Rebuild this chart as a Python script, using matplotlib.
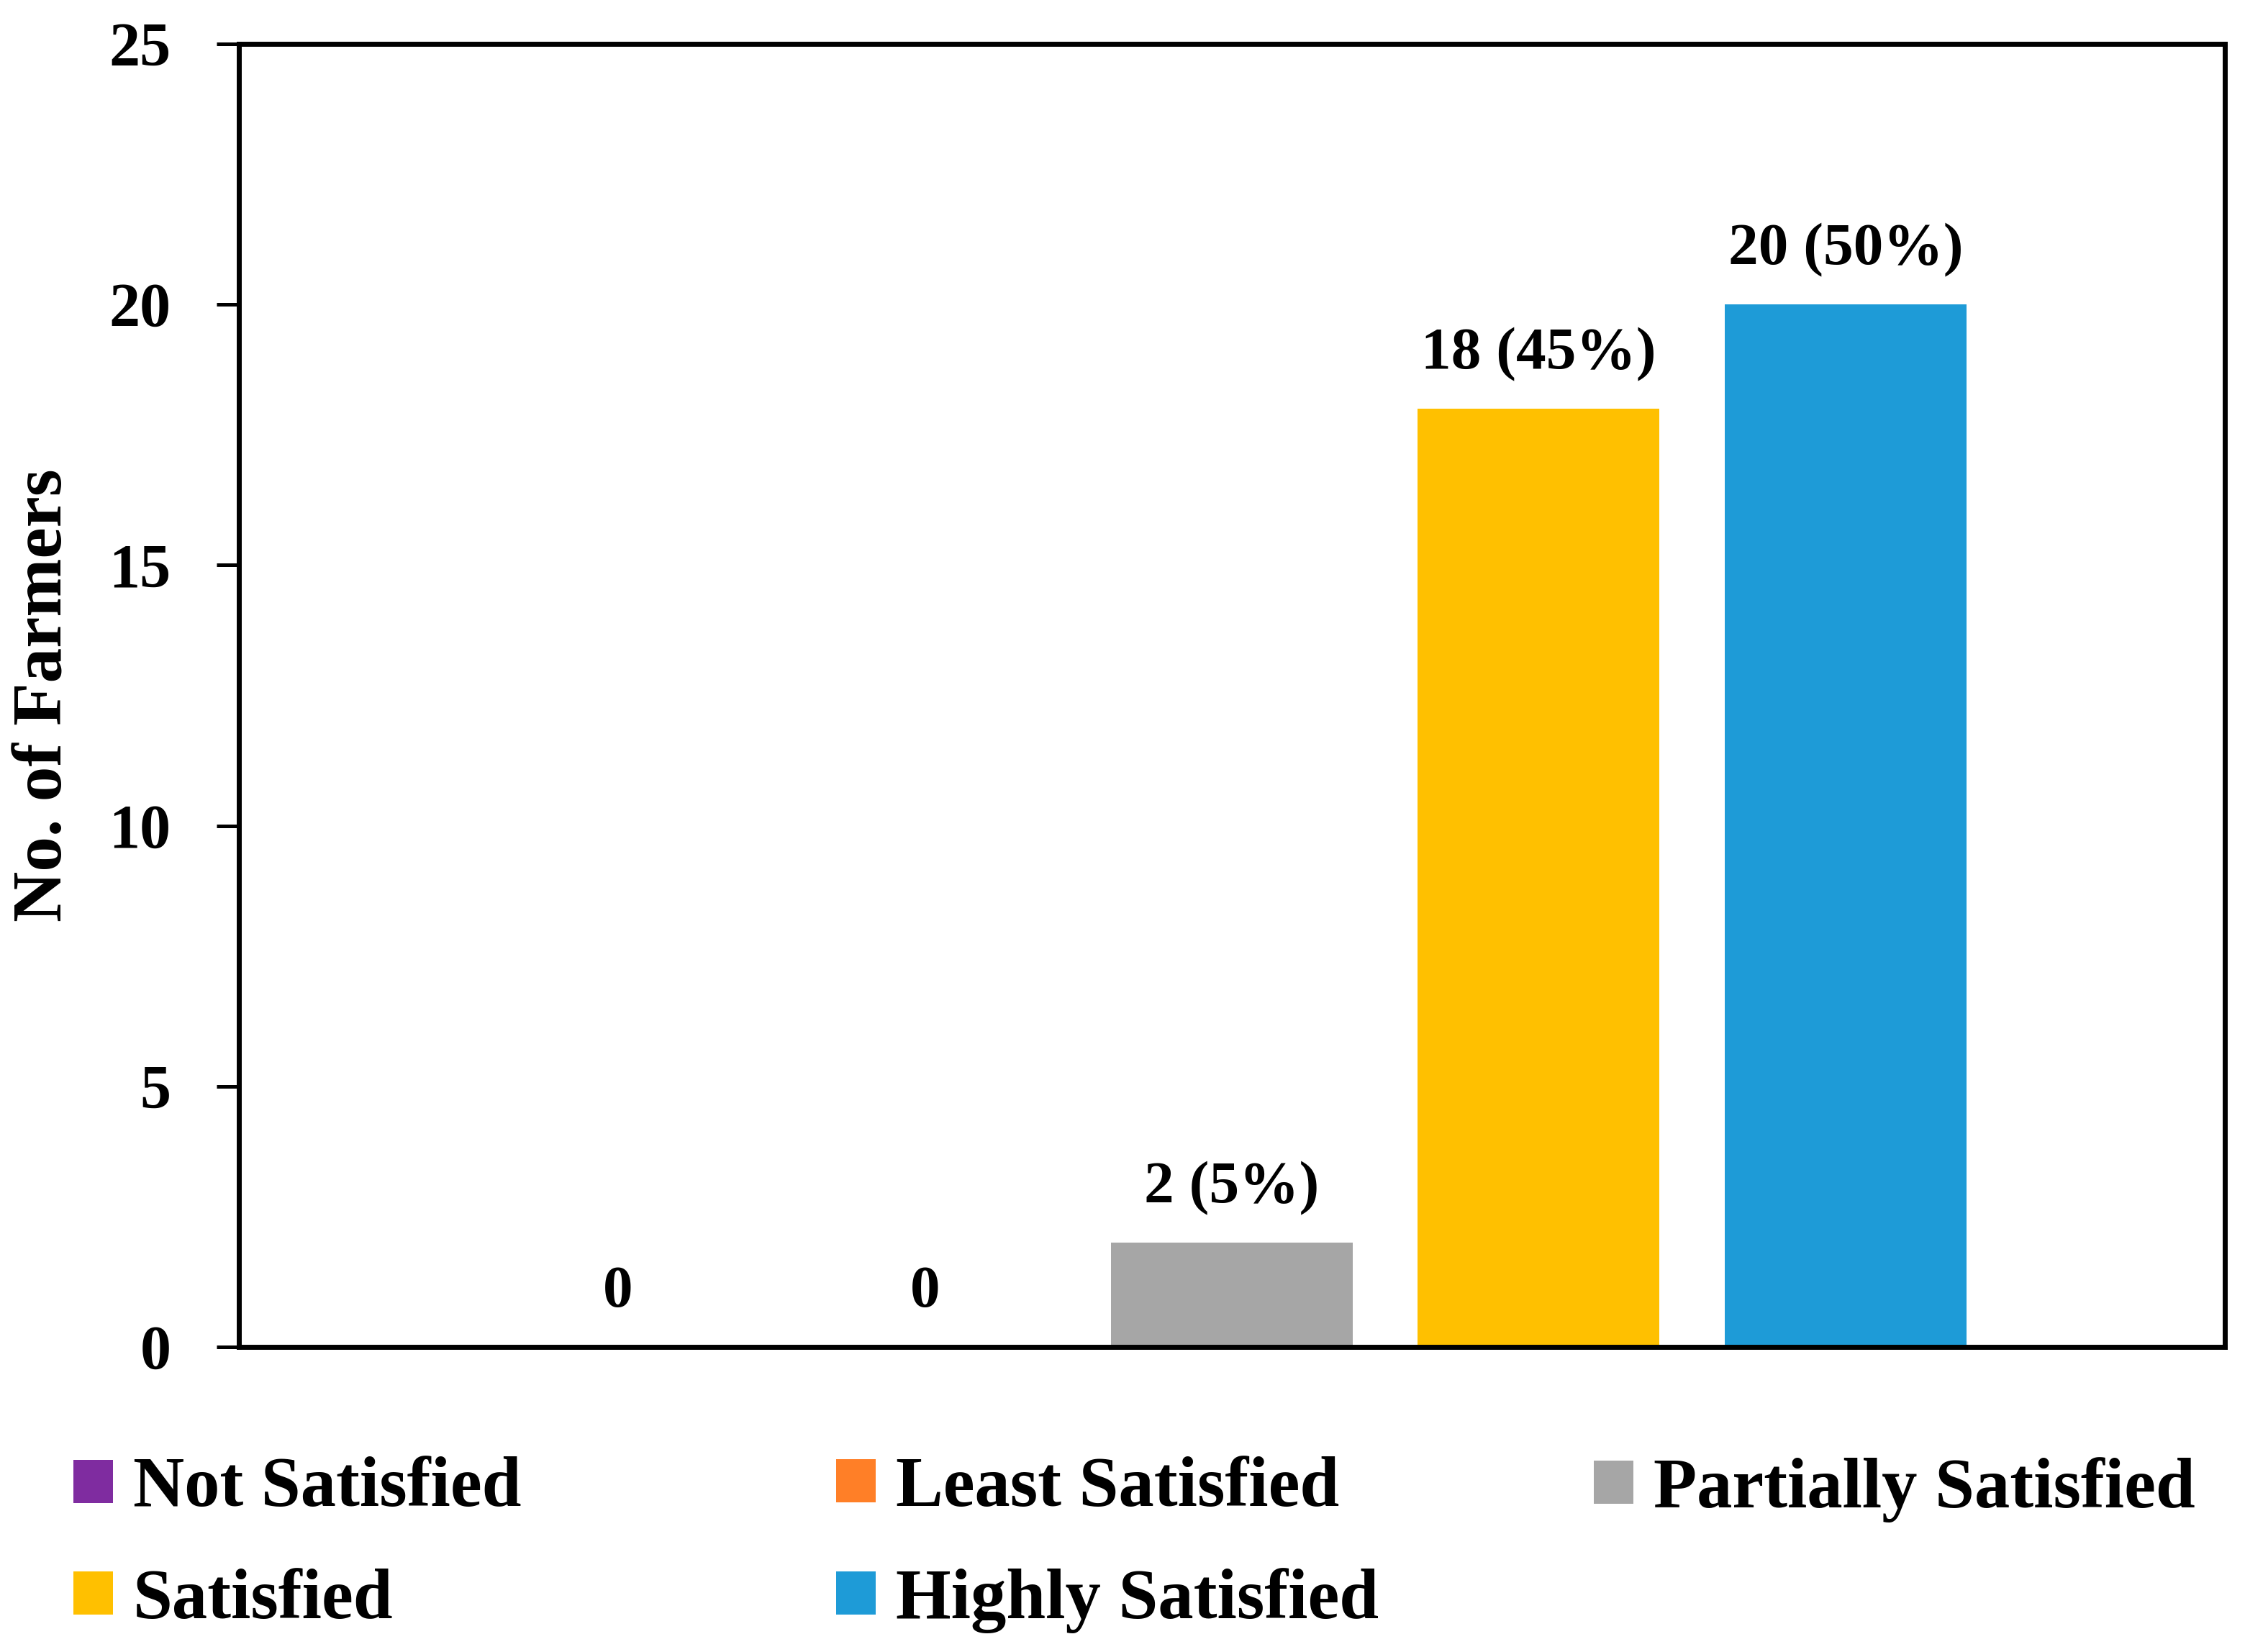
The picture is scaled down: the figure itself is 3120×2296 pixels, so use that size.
import matplotlib
matplotlib.use("Agg")
import matplotlib.pyplot as plt
from matplotlib.patches import Patch

# data
categories = ["Not Satisfied", "Least Satisfied", "Partially Satisfied", "Satisfied", "Highly Satisfied"]
farmers = [0, 0, 2, 18, 20]
percent = [None, None, 5, 45, 50]
colors = ["#7F2CA0", "#FF7F27", "#A6A6A6", "#FFC000", "#1E9BD7"]
y_ticks = [0, 5, 10, 15, 20, 25]

plt.rcParams["font.family"] = ["Liberation Serif", "DejaVu Serif"]
plt.rcParams["font.weight"] = "bold"

fig = plt.figure(figsize=(15.6, 11.48), dpi=200)
ax = fig.add_axes([0.1064, 0.1847, 0.991 - 0.1064, 0.9734 - 0.1847])

x = list(range(len(categories)))
ax.bar(x, farmers, width=0.788, color=colors)

for xi, v, p in zip(x, farmers, percent):
    txt = f"{v}" if p is None else f"{v} ({p}%)"
    ax.annotate(txt, (xi, v), xytext=(0, 20), textcoords="offset points",
                ha="center", va="baseline", fontsize=30, fontweight="bold")

ax.set_xlim(-1.236, 5.236)
ax.set_ylim(0, 25)
ax.set_yticks(y_ticks)
ax.set_xticks([])
ax.tick_params(axis="y", direction="out", length=11, width=1.8, pad=23, labelsize=31)
for s in ax.spines.values():
    s.set_linewidth(2.5)
ax.set_ylabel("No. of Farmers", fontsize=35, fontweight="bold", labelpad=16)

# legend: three columns laid out like the original
handles = [Patch(facecolor=c, edgecolor="none") for c in colors]
leg_kw = dict(frameon=False, fontsize=35.5, handlelength=0.56, handleheight=0.56,
              handletextpad=0.28, borderpad=0, borderaxespad=0, labelspacing=0.66,
              loc="center left", bbox_transform=fig.transFigure)
groups = [([0, 3], (0.0327, 0.0649)), ([1, 4], (0.3724, 0.0649)), ([2], (0.710, 0.0984))]
legs = []
for idx, anchor in groups:
    leg = ax.legend([handles[i] for i in idx], [categories[i] for i in idx],
                    bbox_to_anchor=anchor, **leg_kw)
    legs.append(leg)
for leg in legs[:-1]:
    ax.add_artist(leg)

fig.savefig("out.png", dpi=200)
